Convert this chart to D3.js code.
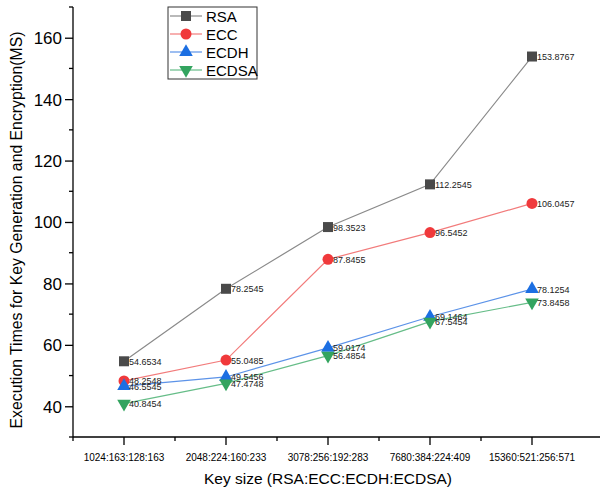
<!DOCTYPE html>
<html>
<head>
<meta charset="utf-8">
<script src="https://cdn.jsdelivr.net/npm/d3@7"></script>
<style>
  body { margin: 0; background: #fff; }
  svg { display: block; font-family: Arial, 'Liberation Sans', sans-serif; }
  .axis path, .axis line { stroke: #000; stroke-width: 1.3; }
  .axis text { fill: #000; }
  .val { font-size: 9px; fill: #222; }
</style>
</head>
<body>
<div id="graphics"></div>
<script>
// data
const categories = ['1024:163:128:163', '2048:224:160:233', '3078:256:192:283', '7680:384:224:409', '15360:521:256:571'];
const rsa = [54.6534, 78.2545, 98.3523, 112.2545, 153.8767];
const ecc = [48.2548, 55.0485, 87.8455, 96.5452, 106.0457];
const ecdh = [46.5545, 49.5456, 59.0174, 69.1464, 78.1254];
const ecdsa = [40.8454, 47.4748, 56.4854, 67.5454, 73.8458];
const yTicks = [40, 60, 80, 100, 120, 140, 160];

const series = [
  { name: 'RSA', values: rsa, fill: '#4a4a4a', line: '#8a8a8a', shape: d3.symbolSquare, size: 100, rot: 0 },
  { name: 'ECC', values: ecc, fill: '#f0393b', line: '#f27b7b', shape: d3.symbolCircle, size: 95, rot: 0 },
  { name: 'ECDH', values: ecdh, fill: '#1c6fe2', line: '#5c93e8', shape: d3.symbolTriangle, size: 80, rot: 0 },
  { name: 'ECDSA', values: ecdsa, fill: '#33a45f', line: '#66bd88', shape: d3.symbolTriangle, size: 80, rot: 180 }
];

const width = 600, height = 490;
const left = 73, bottom = 437;

const svg = d3.select('#graphics').append('svg')
  .attr('width', width).attr('height', height);

const x = d3.scaleLinear().domain([-0.5, 4.5]).range([left, 583]);
const y = d3.scaleLinear().domain([30, 170]).range([bottom, 7]);

// x axis (minor ticks between categories)
const xAxis = svg.append('g').attr('class', 'axis')
  .attr('transform', 'translate(0,' + bottom + ')');
xAxis.append('line').attr('x1', left).attr('x2', 605).attr('y1', 0).attr('y2', 0);
xAxis.selectAll('.maj').data(categories).join('line')
  .attr('x1', (d, i) => x(i)).attr('x2', (d, i) => x(i)).attr('y1', 0).attr('y2', 8);
xAxis.selectAll('.min').data(d3.range(-0.5, 4, 1)).join('line')
  .attr('x1', d => x(d)).attr('x2', d => x(d)).attr('y1', 0).attr('y2', 4);
xAxis.selectAll('text').data(categories).join('text')
  .attr('x', (d, i) => x(i)).attr('y', 24)
  .attr('text-anchor', 'middle').attr('font-size', 10)
  .text(d => d);

// y axis
const yAxis = svg.append('g').attr('class', 'axis')
  .attr('transform', 'translate(' + left + ',0)')
  .call(d3.axisLeft(y).tickValues(yTicks).tickSize(8).tickPadding(3).tickFormat(d3.format('d')));
yAxis.select('.domain').remove();
yAxis.append('line').attr('x1', 0).attr('x2', 0).attr('y1', y(170)).attr('y2', bottom);
yAxis.selectAll('.tick text').attr('font-size', 17).attr('dy', '0.35em');
yAxis.selectAll('.minor').data(d3.range(30, 171, 20)).join('line')
  .attr('x1', -4).attr('x2', 0).attr('y1', d => y(d)).attr('y2', d => y(d));

// axis titles
svg.append('text')
  .attr('x', 328).attr('y', 484)
  .attr('text-anchor', 'middle').attr('font-size', 15.5)
  .text('Key size (RSA:ECC:ECDH:ECDSA)');
svg.append('text')
  .attr('transform', 'translate(22,230) rotate(-90)')
  .attr('text-anchor', 'middle').attr('font-size', 15.8)
  .text('Execution Times for Key Generation and Encryption(MS)');

// lines, markers, labels
const line = d3.line().x((d, i) => x(i)).y(d => y(d));

series.forEach(s => {
  svg.append('path').datum(s.values)
    .attr('d', line).attr('fill', 'none')
    .attr('stroke', s.line).attr('stroke-width', 1.2);
});

series.forEach(s => {
  const g = svg.append('g');
  g.selectAll('path').data(s.values).join('path')
    .attr('d', d3.symbol(s.shape, s.size))
    .attr('transform', (d, i) => 'translate(' + x(i) + ',' + y(d) + ') rotate(' + s.rot + ')')
    .attr('fill', s.fill);
  g.selectAll('text').data(s.values).join('text')
    .attr('class', 'val')
    .attr('x', (d, i) => x(i) + 5).attr('y', d => y(d) + 3.5)
    .text(d => d3.format('.4f')(d));
});

// legend
const legend = svg.append('g').attr('transform', 'translate(168,7)');
legend.append('rect').attr('width', 89).attr('height', 72)
  .attr('fill', '#fff').attr('stroke', '#333').attr('stroke-width', 1);
series.forEach((s, i) => {
  const ly = 9 + i * 18;
  legend.append('line').attr('x1', 2).attr('x2', 34).attr('y1', ly).attr('y2', ly)
    .attr('stroke', s.line).attr('stroke-width', 1.2);
  legend.append('path')
    .attr('d', d3.symbol(s.shape, s.size))
    .attr('transform', 'translate(18,' + ly + ') rotate(' + s.rot + ')')
    .attr('fill', s.fill);
  legend.append('text').attr('x', 38).attr('y', ly + 5.5)
    .attr('font-size', 15).text(s.name);
});
</script>
</body>
</html>
